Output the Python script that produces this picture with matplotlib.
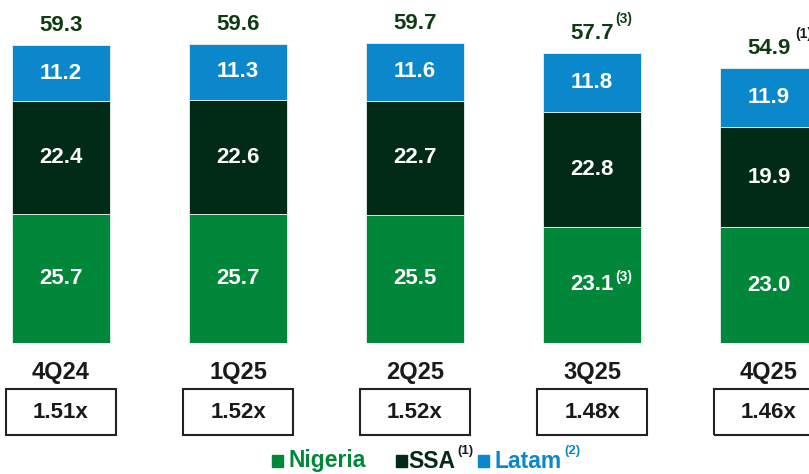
import matplotlib.pyplot as plt
from matplotlib.patches import Rectangle
from matplotlib.transforms import blended_transform_factory

quarters = ["4Q24", "1Q25", "2Q25", "3Q25", "4Q25"]
nigeria = [25.7, 25.7, 25.5, 23.1, 23.0]
ssa = [22.4, 22.6, 22.7, 22.8, 19.9]
latam = [11.2, 11.3, 11.6, 11.8, 11.9]
totals = [59.3, 59.6, 59.7, 57.7, 54.9]
ratios = ["1.51x", "1.52x", "1.52x", "1.48x", "1.46x"]
total_notes = ["", "", "", "(3)", "(1)"]
nigeria_notes = ["", "", "", "(3)", ""]

C_NIG = "#00873A"
C_SSA = "#022B17"
C_LAT = "#0B88CB"
C_TOT = "#0D3B12"
C_TXT = "#1A1A1A"

plt.rcParams["font.family"] = ["Liberation Sans", "DejaVu Sans"]
plt.rcParams["font.weight"] = "bold"

W, H = 809, 474
fig = plt.figure(figsize=(W / 100, H / 100), dpi=100)
# bars sit on pixel row 343, one bar every 177 px starting at x=61
ax = fig.add_axes([0, (H - 343) / H, 1, 343 / H])
ax.set_xlim(-61 / 177, (W - 61) / 177)
ax.set_ylim(0, 343 / 5.025)
ax.axis("off")

x = list(range(len(quarters)))
bw = 98 / 177
lat_bottom = [n + s for n, s in zip(nigeria, ssa)]
ax.bar(x, nigeria, bw, color=C_NIG, edgecolor="#e8f3ea", linewidth=0.6)
ax.bar(x, ssa, bw, bottom=nigeria, color=C_SSA, edgecolor="#e8f3ea", linewidth=0.6)
ax.bar(x, latam, bw, bottom=lat_bottom, color=C_LAT, edgecolor="#e8f3ea", linewidth=0.6)

for i in x:
    t = ax.text(i, nigeria[i] / 2, f"{nigeria[i]:.1f}", ha="center", va="center",
                color="white", fontsize=16, fontweight="bold")
    if nigeria_notes[i]:
        ax.annotate(nigeria_notes[i], xy=(1, 0.9), xycoords=t, xytext=(1, 0),
                    textcoords="offset points", ha="left", va="center",
                    color="white", fontsize=10, fontweight="bold")
    ax.text(i, nigeria[i] + ssa[i] / 2, f"{ssa[i]:.1f}", ha="center", va="center",
            color="white", fontsize=16, fontweight="bold")
    ax.text(i, lat_bottom[i] + latam[i] / 2, f"{latam[i]:.1f}", ha="center", va="center",
            color="white", fontsize=16, fontweight="bold")
    top = lat_bottom[i] + latam[i]
    t = ax.annotate(f"{totals[i]:.1f}", xy=(i, top), xytext=(0, 14), textcoords="offset points",
                    ha="center", va="center", color=C_TOT, fontsize=16, fontweight="bold",
                    annotation_clip=False)
    if total_notes[i]:
        note_color = C_TOT if total_notes[i] == "(3)" else C_TXT
        dx = 1 if total_notes[i] == "(3)" else 3
        ax.annotate(total_notes[i], xy=(1, 1.0), xycoords=t, xytext=(dx, 3),
                    textcoords="offset points", ha="left", va="center",
                    color=note_color, fontsize=10, fontweight="bold")

# category labels and ratio boxes below the bars
trans = blended_transform_factory(ax.transData, fig.transFigure)
box_w = 110 / 177
for i in x:
    fig.text(i, (H - 373) / H, quarters[i], transform=trans, ha="center", va="center",
             color=C_TXT, fontsize=17, fontweight="bold")
    fig.add_artist(Rectangle((i - box_w / 2, (H - 435) / H), box_w, 46 / H,
                             transform=trans, fill=False, edgecolor="#222222",
                             linewidth=1.5))
    fig.text(i, (H - 413) / H, ratios[i], transform=trans, ha="center", va="center",
             color=C_TXT, fontsize=16, fontweight="bold")

# legend, drawn by hand in pixel coordinates
legend_items = [("Nigeria", C_NIG, 272, 289, "", None),
                ("SSA", C_SSA, 396, 408, "(1)", C_TXT),
                ("Latam", C_LAT, 478, 494, "(2)", C_LAT)]
for label, color, sq_x, tx_x, note, note_color in legend_items:
    fig.add_artist(Rectangle((sq_x / W, (H - 467) / H), 11 / W, 12 / H,
                             transform=fig.transFigure, color=color))
    t = fig.text(tx_x / W, (H - 461) / H, label, ha="left", va="center",
                 color=color, fontsize=16.5, fontweight="bold")
    if note:
        ax.annotate(note, xy=(1, 0.95), xycoords=t, xytext=(2, 0), textcoords="offset points",
                    ha="left", va="center", color=note_color, fontsize=9.5,
                    fontweight="bold", annotation_clip=False)

fig.savefig("out.png", dpi=100)
